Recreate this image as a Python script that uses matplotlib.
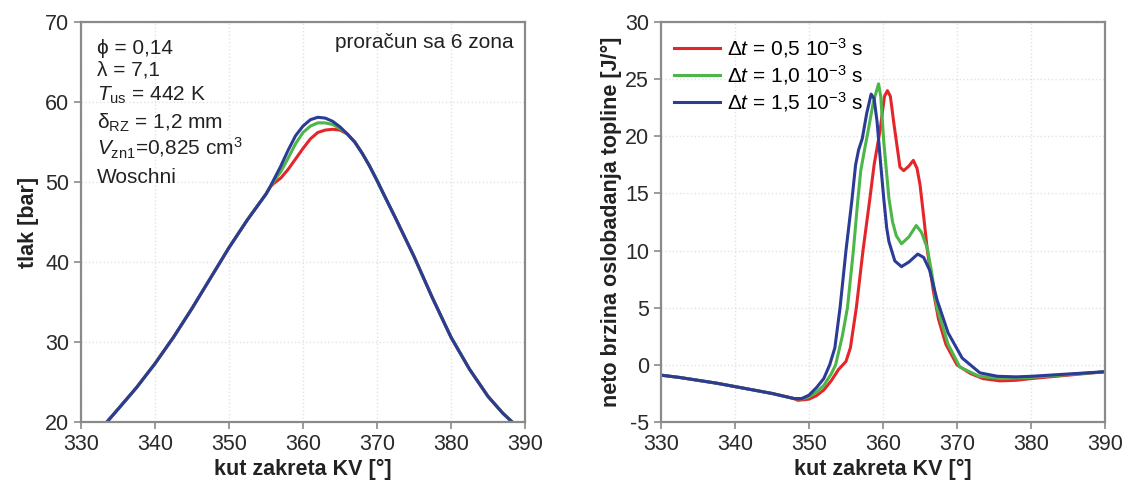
import matplotlib
matplotlib.use('Agg')
import matplotlib.pyplot as plt

plt.rcParams['font.family'] = ['Liberation Sans', 'DejaVu Sans']
plt.rcParams['mathtext.fontset'] = 'custom'
plt.rcParams['mathtext.rm'] = 'Liberation Sans'
plt.rcParams['mathtext.it'] = 'Liberation Sans:italic'
plt.rcParams['mathtext.bf'] = 'Liberation Sans:bold'
plt.rcParams['axes.unicode_minus'] = False

# ---- left panel: pressure [bar] vs crank angle ----
p_common_x = [333.5, 335, 337.5, 340, 342.5, 345, 347.5, 350, 352.5, 355, 355.5]
p_common_y = [20.0, 21.6, 24.3, 27.3, 30.6, 34.2, 38.0, 41.8, 45.3, 48.5, 49.3]
p_peak_x = [356, 357, 358, 359, 360, 361, 362, 363, 364, 365, 366]
p_red_peak = [49.8, 50.5, 51.6, 52.9, 54.2, 55.4, 56.2, 56.5, 56.6, 56.5, 56.0]
p_green_peak = [50.0, 51.3, 53.0, 54.8, 56.2, 57.0, 57.4, 57.4, 57.2, 56.7, 56.0]
p_blue_peak = [50.2, 52.0, 54.0, 55.8, 57.0, 57.8, 58.1, 58.0, 57.6, 56.9, 56.0]
p_tail_x = [367, 368, 369, 370, 371, 372.5, 375, 377.5, 380, 382.5, 385, 387, 388.5]
p_tail_y = [55.0, 53.6, 52.0, 50.2, 48.3, 45.5, 40.7, 35.5, 30.6, 26.6, 23.2, 21.1, 19.8]

# ---- right panel: net heat release rate [J/deg] ----
q_common_x = [330, 332.5, 335, 337.5, 340, 342.5, 345, 347, 348]
q_common_y = [-0.9, -1.1, -1.35, -1.6, -1.9, -2.2, -2.5, -2.8, -2.95]

q_red_x = [348.5, 350, 351, 352, 353, 354, 355, 355.6, 356.4, 357.3, 358.2, 358.8,
           359.6, 360.2, 360.6, 361.0, 361.5, 362.3, 362.8, 363.5, 364.1, 364.6, 365.0,
           365.5, 366, 366.8, 367.5, 368.5, 370, 371.8, 373.5, 375.8, 378, 380, 385, 390]
q_red_y = [-3.1, -3.0, -2.7, -2.2, -1.4, -0.4, 0.3, 1.5, 5, 10, 14.4, 17.5,
           20.5, 23.5, 24.0, 23.5, 21, 17.3, 17.0, 17.4, 17.9, 17.2, 15.8,
           13, 10, 6.5, 4, 1.8, 0, -0.75, -1.2, -1.4, -1.35, -1.2, -0.9, -0.6]

q_green_x = [349, 350, 351, 352, 353, 353.6, 354.5, 355.2, 356.0, 356.6, 357.0, 357.5,
             358.0, 358.7, 359.4, 359.7, 360.1, 360.8, 361.3, 361.8, 362.5, 363.5, 364.5,
             365.2, 366.0, 366.6, 367.3, 368.8, 370.4, 373, 376, 380, 385, 390]
q_green_y = [-2.98, -2.8, -2.4, -1.8, -0.8, 0, 2.5, 5, 10, 14.4, 17, 18.8,
             20.5, 23, 24.6, 23.5, 19.6, 14.6, 12.5, 11.3, 10.6, 11.2, 12.2,
             11.6, 10.2, 8.0, 5, 1.8, -0.2, -1.0, -1.2, -1.1, -0.85, -0.6]

q_blue_x = [349, 350, 351, 352, 352.8, 353.5, 354.2, 355, 355.8, 356.3, 356.7, 357.2,
            357.8, 358.4, 358.8, 359.2, 359.7, 360.1, 360.5, 360.8, 361.6, 362.5, 363.5,
            364.7, 365.5, 366.3, 367.3, 368.8, 370.7, 373.1, 375.5, 378, 380, 385, 390]
q_blue_y = [-2.95, -2.65, -2.0, -1.2, 0, 1.5, 5, 10, 14.4, 17.5, 18.8, 19.8,
            22, 23.7, 23.3, 21.3, 17.5, 14.6, 12, 10.8, 9.1, 8.6, 9.0,
            9.7, 9.4, 8.3, 5.7, 2.8, 0.6, -0.7, -1.0, -1.05, -1.0, -0.8, -0.6]

labels = [r'$\Delta t$ = 0,5 10$^{-3}$ s',
          r'$\Delta t$ = 1,0 10$^{-3}$ s',
          r'$\Delta t$ = 1,5 10$^{-3}$ s']
colors = ['#e4262b', '#4cb748', '#2b3b96']

params = ['ϕ = 0,14',
          'λ = 7,1',
          r'$T_{\rm us}$ = 442 K',
          r'δ$_{\rm RZ}$ = 1,2 mm',
          r'$V_{\rm zn1}$=0,825 cm$^{3}$',
          'Woschni']

fig = plt.figure(figsize=(11.31, 4.98), dpi=100)
ax1 = fig.add_axes([0.0716, 0.1526, 0.3926, 0.803])
ax2 = fig.add_axes([0.5844, 0.1526, 0.3926, 0.803])

spine_col = '#8a8a8a'
for ax in (ax1, ax2):
    for s in ax.spines.values():
        s.set_color(spine_col)
        s.set_linewidth(1.6)
    ax.tick_params(axis='both', direction='out', length=5, width=1.2,
                   color=spine_col, labelsize=15.5, labelcolor='#2a2a2a')
    ax.grid(True, color='#e2e2e2', linestyle=':', linewidth=1.0)
    ax.set_axisbelow(True)
    ax.set_xlim(330, 390)
    ax.set_xticks(range(330, 391, 10))
    ax.set_xlabel('kut zakreta KV [°]', fontsize=15.5, fontweight='bold',
                  color='#222222', labelpad=3)

# left
peaks = [p_red_peak, p_green_peak, p_blue_peak]
for peak, c in zip(peaks, colors):
    ax1.plot(p_common_x + p_peak_x + p_tail_x, p_common_y + peak + p_tail_y,
             color=c, linewidth=2.2)
ax1.set_ylim(20, 70)
ax1.set_yticks(range(20, 71, 10))
ax1.set_ylabel('tlak [bar]', fontsize=15.5, fontweight='bold', color='#222222')
ytxt = [0.935, 0.88, 0.8175, 0.7475, 0.685, 0.6125]
for t, yy in zip(params, ytxt):
    ax1.text(0.035, yy, t, transform=ax1.transAxes, fontsize=15, color='#222222',
             va='center', ha='left')
ax1.text(0.975, 0.95, 'proračun sa 6 zona', transform=ax1.transAxes, fontsize=15,
         color='#222222', ha='right', va='center')

# right
series = [(q_red_x, q_red_y), (q_green_x, q_green_y), (q_blue_x, q_blue_y)]
for (xs, ys), c, lab in zip(series, colors, labels):
    ax2.plot(q_common_x + xs, q_common_y + ys, color=c, linewidth=2.2, label=lab)
ax2.set_ylim(-5, 30)
ax2.set_yticks(range(-5, 31, 5))
ax2.set_ylabel('neto brzina oslobadanja topline [J/°]', fontsize=15.5,
               fontweight='bold', color='#222222', labelpad=2)
ax2.legend(loc='upper left', bbox_to_anchor=(0.0, 1.0), frameon=False, fontsize=15,
           handlelength=2.2, handletextpad=0.3, labelspacing=0.15, borderaxespad=0.25)

fig.savefig('out.png', dpi=100)
